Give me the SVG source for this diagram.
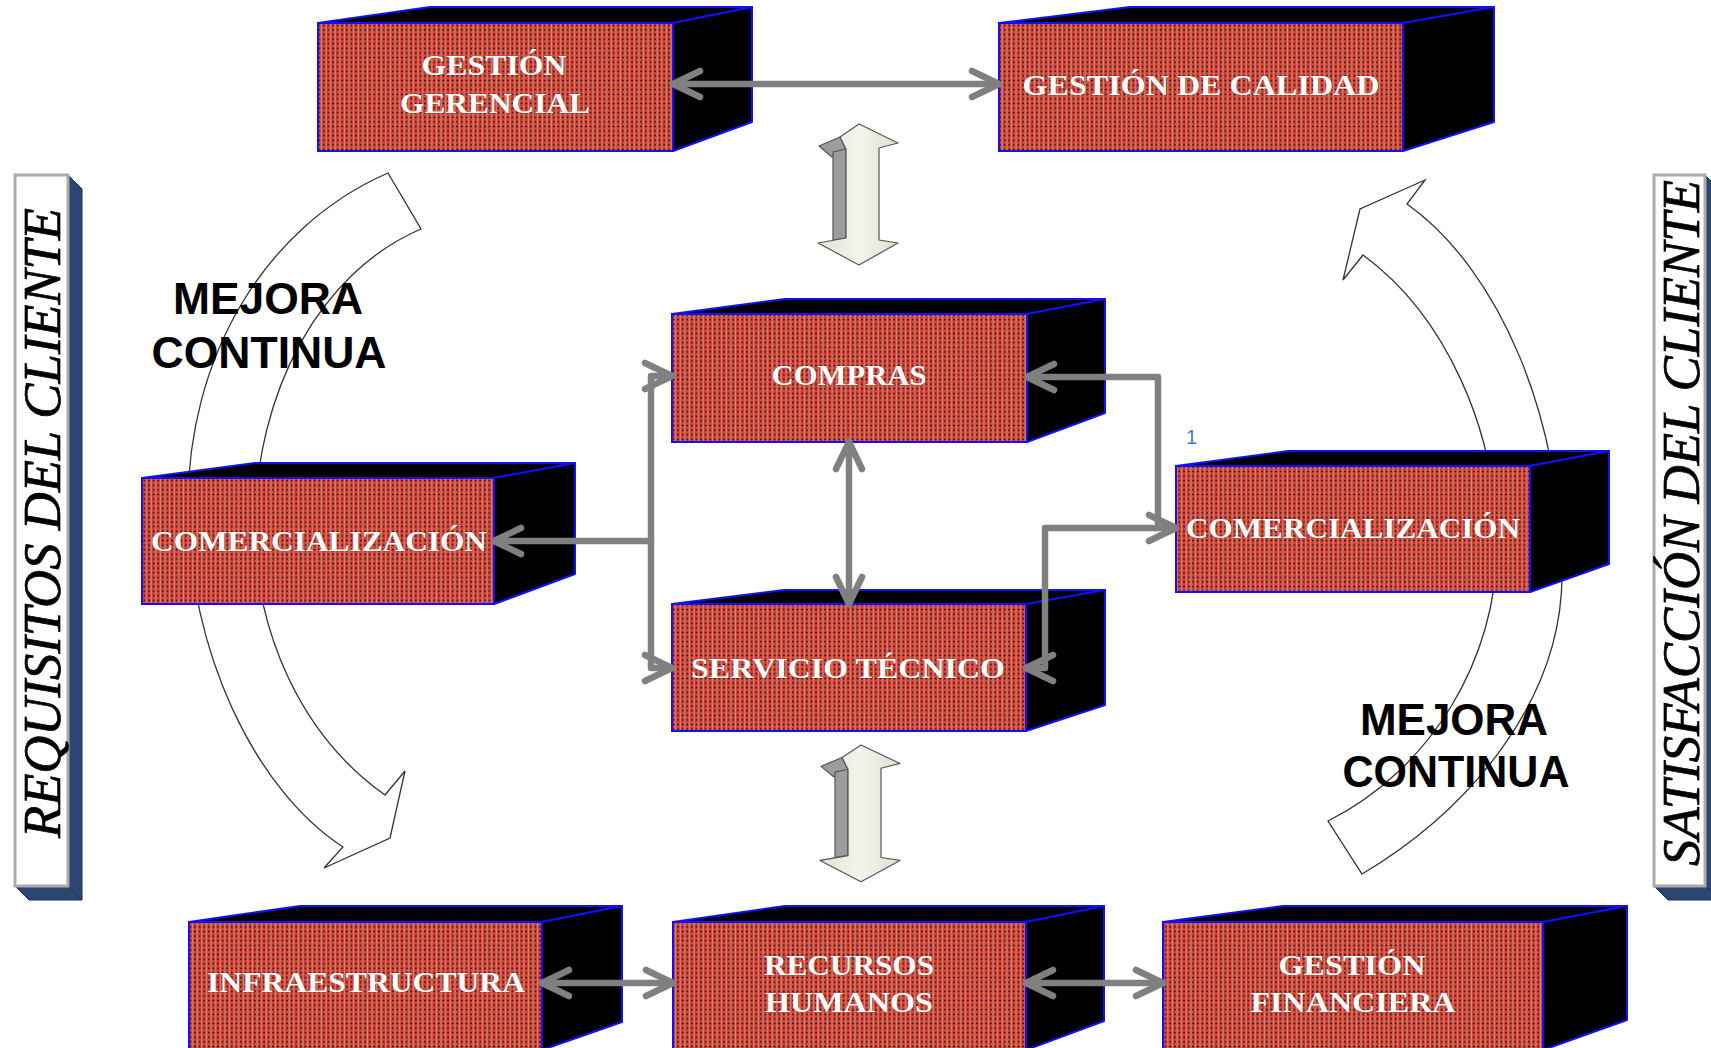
<svg xmlns="http://www.w3.org/2000/svg" width="1711" height="1048" viewBox="0 0 1711 1048">
  <defs>
    <style>
      .face { fill: url(#weave); stroke: #1010ff; stroke-width: 2; }
      .side { fill: #000; stroke: #1010ff; stroke-width: 2; stroke-linejoin: round; }
      .lbl { fill: #fff; font-family: "Liberation Serif", "Times New Roman", serif; font-weight: bold; font-size: 30px; text-anchor: middle; stroke: #3a1410; stroke-width: 0.6; stroke-opacity: 0.5; paint-order: stroke; }
      .mejora { fill: #000; font-family: "Liberation Sans", Arial, sans-serif; font-weight: bold; font-size: 45px; text-anchor: middle; }
      .panel { fill: #fff; stroke: #aaaaaa; stroke-width: 3; }
      .panel-side { fill: #2c4672; stroke: #1d2f4f; stroke-width: 1; }
      .panel-txt { fill: #000; stroke: #000; stroke-width: 0.7; font-family: "Liberation Serif", "Times New Roman", serif; font-style: italic; font-size: 53px; text-anchor: middle; }
      .link { fill: none; stroke: #808080; stroke-width: 6.5; stroke-linejoin: round; stroke-linecap: round; }
      .cycle { fill: #fff; stroke: #333; stroke-width: 1.3; stroke-linejoin: miter; }
      .dbl-front { fill: url(#pale); stroke: #555; stroke-width: 1.2; stroke-linejoin: round; }
      .dbl-side { fill: #9c9c9c; stroke: #555; stroke-width: 1.2; stroke-linejoin: round; }
    </style>
    <pattern id="weave" width="4.6" height="4.6" patternUnits="userSpaceOnUse">
      <rect width="4.6" height="4.6" fill="#e0402f"/>
      <rect x="3.5" width="1.1" height="4.6" fill="#b49c99" opacity="0.85"/>
      <circle cx="1.8" cy="2.3" r="0.9" fill="#1c1010"/>
    </pattern>
    <linearGradient id="pale" x1="0" y1="0" x2="1" y2="0">
      <stop offset="0" stop-color="#dfe4d2"/>
      <stop offset="0.5" stop-color="#f3f5ec"/>
      <stop offset="1" stop-color="#dde2cf"/>
    </linearGradient>
    <marker id="chev" markerUnits="userSpaceOnUse" markerWidth="44" markerHeight="44" viewBox="-36 -22 44 44" refX="0" refY="0" orient="auto-start-reverse" overflow="visible">
      <path d="M-27,-13 L0,0 L-27,13" fill="none" stroke="#808080" stroke-width="6.5" stroke-linecap="round" stroke-linejoin="round"/>
    </marker>
    <!-- 3D double-headed block arrow -->
    <g id="dblArrow">
      <polygon class="dbl-side" points="819,146 840,137 846,149 832,157"/>
      <polygon class="dbl-side" points="833,152 846,149 846,238 833,240"/>
      <polygon class="dbl-front" points="859,124 898,143 879,148 879,240 898,243 859,265 818,243 846,238 846,149 840,137"/>
    </g>
  </defs>

  <rect width="1711" height="1048" fill="#fff"/>

  <!-- side panels -->
  <g id="panel-requisitos">
    <polygon class="panel-side" points="68,175 82,189 82,900 68,886"/>
    <polygon class="panel-side" points="15,886 29,900 82,900 68,886"/>
    <rect class="panel" x="15" y="175" width="53" height="711"/>
    <text class="panel-txt" transform="translate(60,523) rotate(-90)" textLength="630" lengthAdjust="spacingAndGlyphs">REQUISITOS DEL CLIENTE</text>
  </g>
  <g id="panel-satisfaccion">
    <polygon class="panel-side" points="1705,175 1719,189 1719,900 1705,886"/>
    <polygon class="panel-side" points="1654,886 1668,900 1719,900 1705,886"/>
    <rect class="panel" x="1654" y="175" width="51" height="711"/>
    <text class="panel-txt" transform="translate(1699,523) rotate(-90)" textLength="686" lengthAdjust="spacingAndGlyphs">SATISFACCIÓN DEL CLIENTE</text>
  </g>

  <!-- improvement cycle arrows -->
  <g id="cycle-left">
    <path class="cycle" d="M388,173 C262,228 188,360 188,505 C188,650 255,790 343,847 L324,868 L390,838 L405,771 L385,795 C300,735 255,630 255,528 C255,392 320,272 421,229 Z"/>
    <text class="mejora" x="268" y="314" textLength="190" lengthAdjust="spacingAndGlyphs">MEJORA</text>
    <text class="mejora" x="269" y="368" textLength="235" lengthAdjust="spacingAndGlyphs">CONTINUA</text>
  </g>
  <g id="cycle-right">
    <path class="cycle" d="M1362,874 C1470,810 1562,700 1562,575 C1562,420 1500,270 1407,204 L1425,180 L1360,209 L1343,280 L1363,255 C1445,315 1497,430 1497,545 C1497,660 1430,770 1328,821 Z"/>
    <text class="mejora" x="1454" y="735" textLength="188" lengthAdjust="spacingAndGlyphs">MEJORA</text>
    <text class="mejora" x="1456" y="787" textLength="227" lengthAdjust="spacingAndGlyphs">CONTINUA</text>
  </g>

  <!-- process boxes -->
  <g id="gestion-gerencial">
    <polygon class="side" points="318,23 430,7 752,7 673,23"/>
    <polygon class="side" points="673,23 752,7 752,122 673,151"/>
    <rect class="face" x="318" y="23" width="355" height="128"/>
    <text class="lbl" x="494" y="75" textLength="145" lengthAdjust="spacingAndGlyphs">GESTIÓN</text>
    <text class="lbl" x="495" y="113" textLength="190" lengthAdjust="spacingAndGlyphs">GERENCIAL</text>
  </g>
  <g id="gestion-calidad">
    <polygon class="side" points="999,23 1130,7 1494,7 1403,23"/>
    <polygon class="side" points="1403,23 1494,7 1494,122 1403,151"/>
    <rect class="face" x="999" y="23" width="404" height="128"/>
    <text class="lbl" x="1201" y="95" textLength="357" lengthAdjust="spacingAndGlyphs">GESTIÓN DE CALIDAD</text>
  </g>
  <g id="compras">
    <polygon class="side" points="672,314 785,299 1105,299 1027,314"/>
    <polygon class="side" points="1027,314 1105,299 1105,413 1027,442"/>
    <rect class="face" x="672" y="314" width="355" height="128"/>
    <text class="lbl" x="849" y="385" textLength="155" lengthAdjust="spacingAndGlyphs">COMPRAS</text>
  </g>
  <g id="comercializacion-izq">
    <polygon class="side" points="142,478 255,463 575,463 494,478"/>
    <polygon class="side" points="494,478 575,463 575,574 494,604"/>
    <rect class="face" x="142" y="478" width="352" height="126"/>
    <text class="lbl" x="319" y="551" textLength="336" lengthAdjust="spacingAndGlyphs">COMERCIALIZACIÓN</text>
  </g>
  <g id="comercializacion-der">
    <polygon class="side" points="1176,466 1288,451 1609,451 1530,466"/>
    <polygon class="side" points="1530,466 1609,451 1609,564 1530,592"/>
    <rect class="face" x="1176" y="466" width="354" height="126"/>
    <text class="lbl" x="1353" y="538" textLength="334" lengthAdjust="spacingAndGlyphs">COMERCIALIZACIÓN</text>
  </g>
  <g id="servicio-tecnico">
    <polygon class="side" points="672,604 784,590 1105,590 1026,604"/>
    <polygon class="side" points="1026,604 1105,590 1105,705 1026,731"/>
    <rect class="face" x="672" y="604" width="354" height="127"/>
    <text class="lbl" x="848" y="678" textLength="314" lengthAdjust="spacingAndGlyphs">SERVICIO TÉCNICO</text>
  </g>
  <g id="infraestructura">
    <polygon class="side" points="189,922 300,906 622,906 542,922"/>
    <polygon class="side" points="542,922 622,906 622,1022 542,1050"/>
    <rect class="face" x="189" y="922" width="353" height="128"/>
    <text class="lbl" x="366" y="992" textLength="318" lengthAdjust="spacingAndGlyphs">INFRAESTRUCTURA</text>
  </g>
  <g id="recursos-humanos">
    <polygon class="side" points="673,922 785,906 1104,906 1026,922"/>
    <polygon class="side" points="1026,922 1104,906 1104,1021 1026,1050"/>
    <rect class="face" x="673" y="922" width="353" height="128"/>
    <text class="lbl" x="849" y="975" textLength="170" lengthAdjust="spacingAndGlyphs">RECURSOS</text>
    <text class="lbl" x="849" y="1012" textLength="168" lengthAdjust="spacingAndGlyphs">HUMANOS</text>
  </g>
  <g id="gestion-financiera">
    <polygon class="side" points="1163,922 1283,906 1627,906 1543,922"/>
    <polygon class="side" points="1543,922 1627,906 1627,1020 1543,1050"/>
    <rect class="face" x="1163" y="922" width="380" height="128"/>
    <text class="lbl" x="1352" y="975" textLength="147" lengthAdjust="spacingAndGlyphs">GESTIÓN</text>
    <text class="lbl" x="1353" y="1012" textLength="205" lengthAdjust="spacingAndGlyphs">FINANCIERA</text>
  </g>

  <!-- connectors -->
  <g id="connectors">
    <use href="#dblArrow"/>
    <use href="#dblArrow" transform="translate(2,624.7) scale(1,0.97)"/>
    <path class="link" d="M673,84 H999" marker-start="url(#chev)" marker-end="url(#chev)"/>
    <path class="link" d="M849,442 V604" marker-start="url(#chev)" marker-end="url(#chev)"/>
    <path class="link" d="M672,376 H651 V668 H672" marker-start="url(#chev)" marker-end="url(#chev)"/>
    <path class="link" d="M651,541 H494" marker-end="url(#chev)"/>
    <path class="link" d="M1027,377 H1158 V528 H1176" marker-start="url(#chev)" marker-end="url(#chev)"/>
    <path class="link" d="M1026,668 H1045 V528 H1158" marker-start="url(#chev)"/>
    <path class="link" d="M542,983 H673" marker-start="url(#chev)" marker-end="url(#chev)"/>
    <path class="link" d="M1026,983 H1163" marker-start="url(#chev)" marker-end="url(#chev)"/>
  </g>

  <text x="1186" y="444" font-family="Liberation Sans, Arial, sans-serif" font-size="20" fill="#4a78c4">1</text>
</svg>
